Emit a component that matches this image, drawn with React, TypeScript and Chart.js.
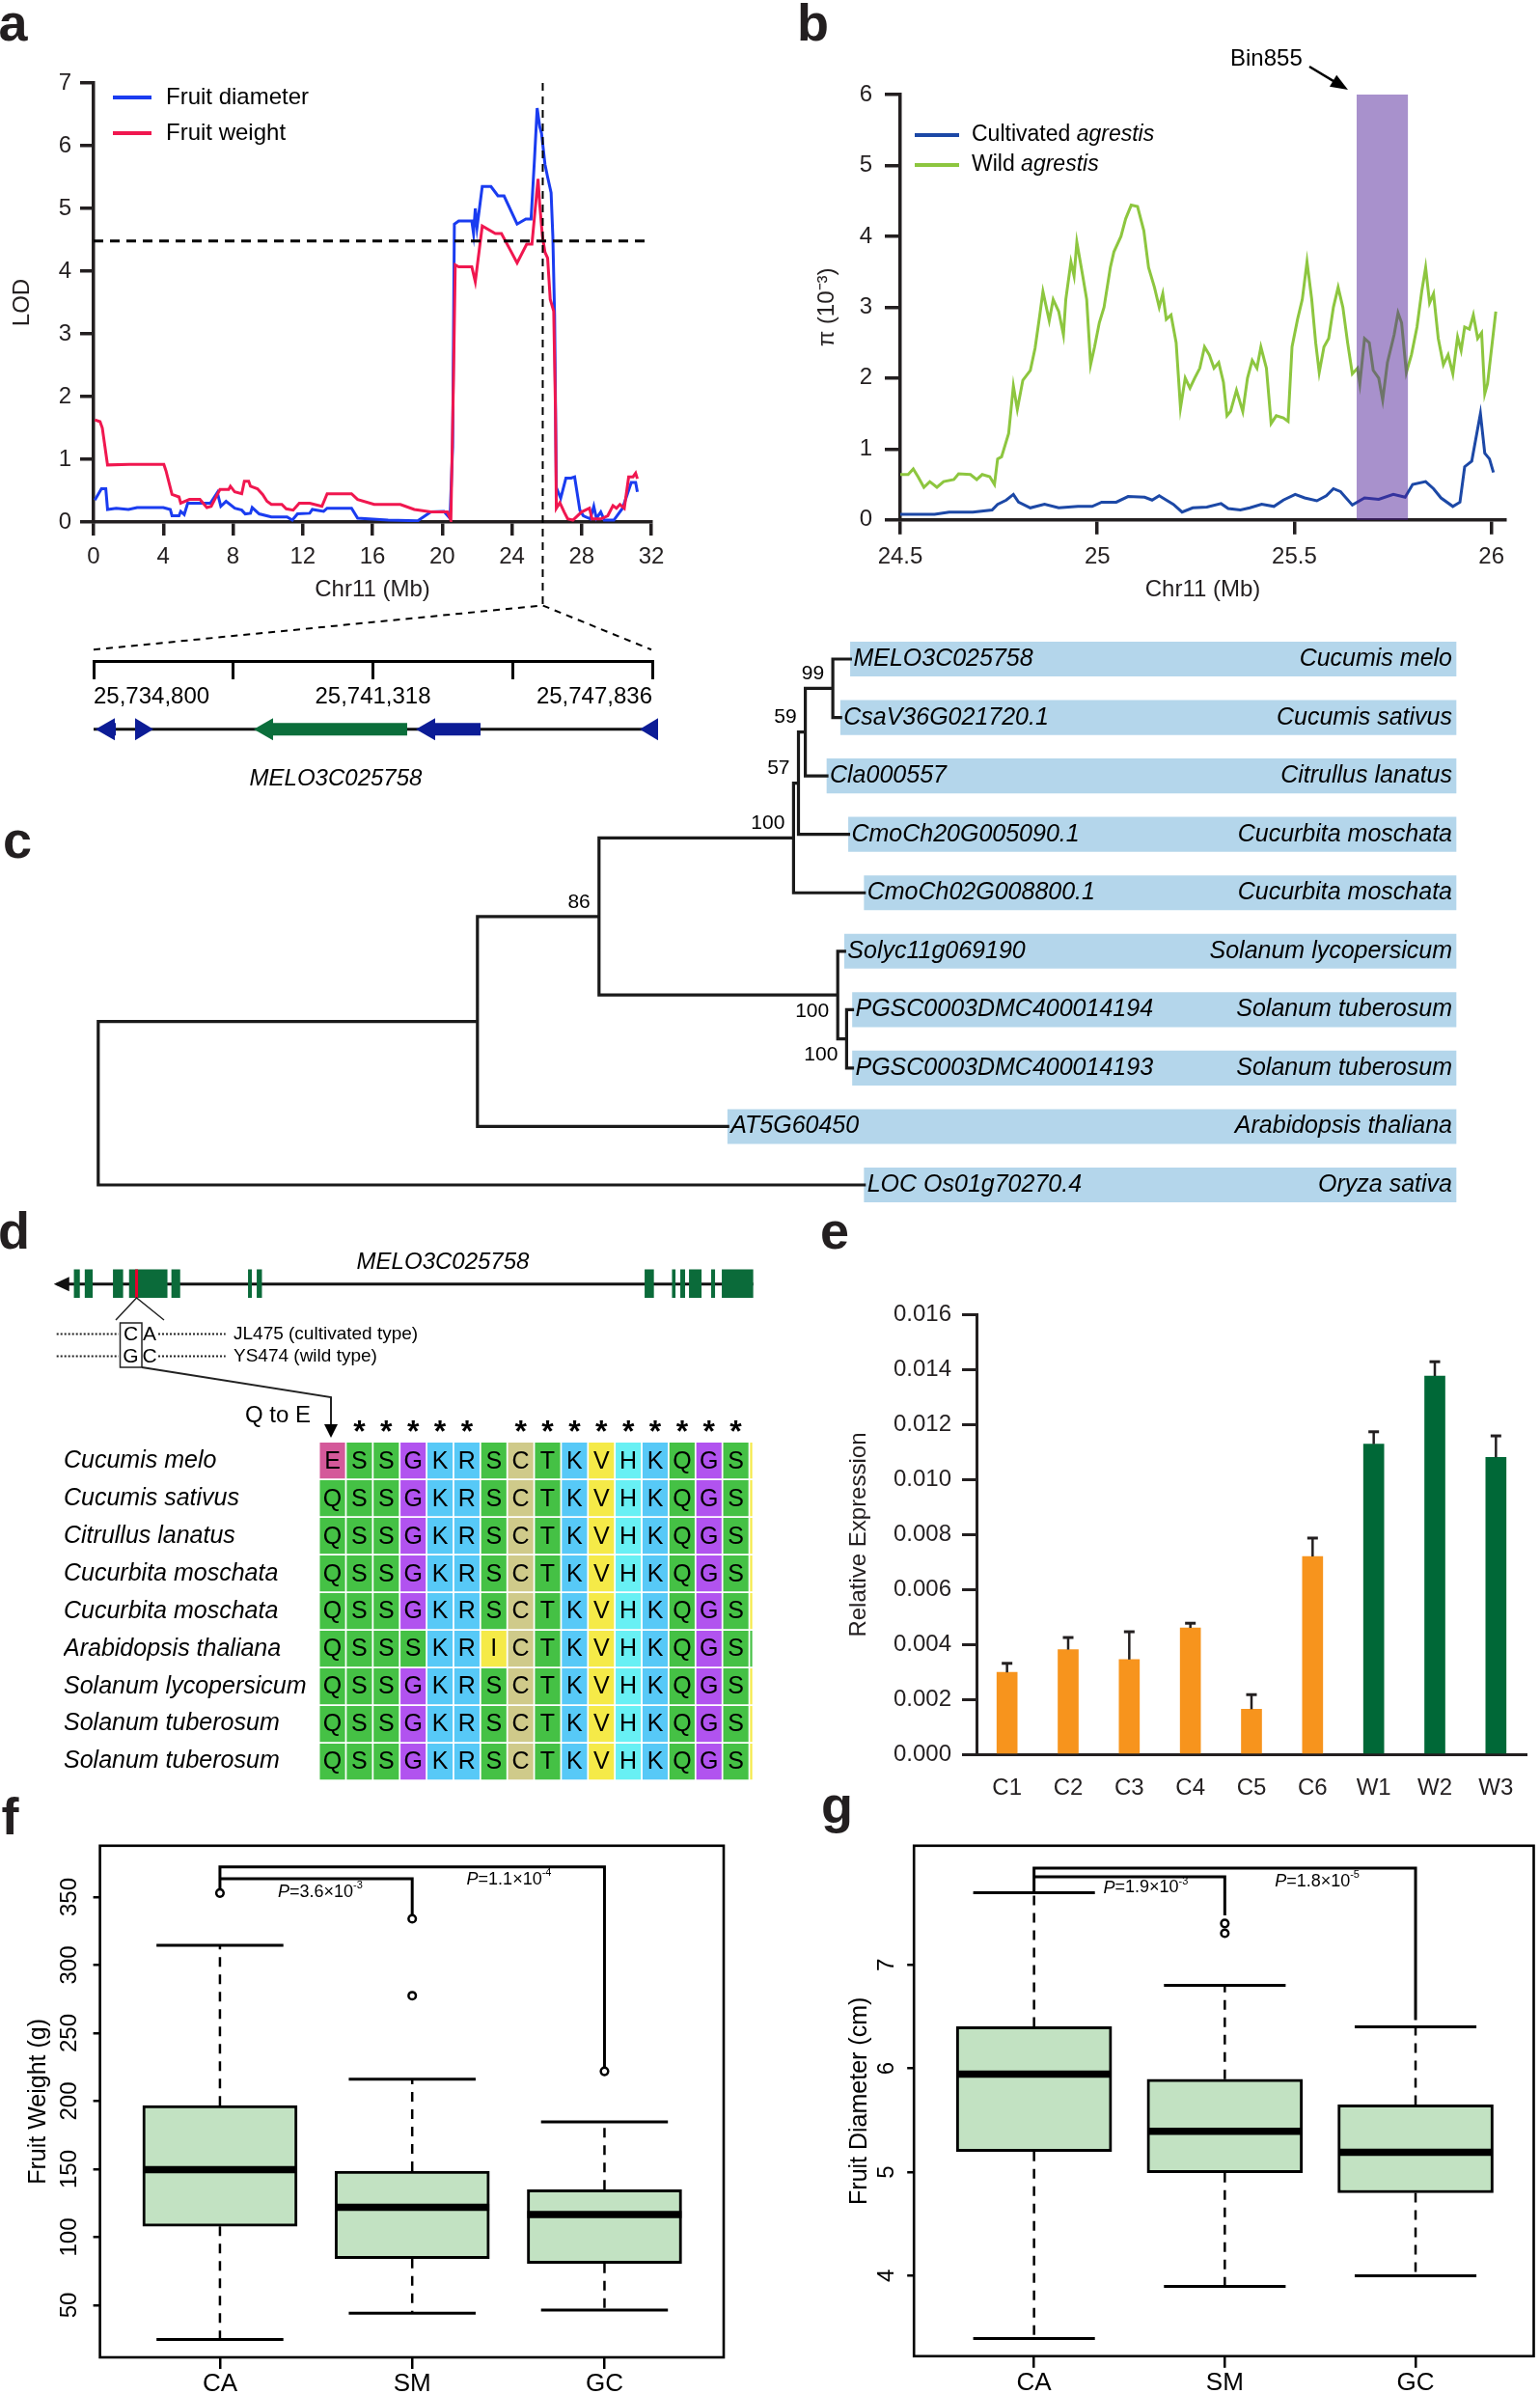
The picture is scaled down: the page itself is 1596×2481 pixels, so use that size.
import React, { useEffect, useRef } from 'react';
import { Chart, registerables } from 'chart.js';

Chart.register(...registerables);
const FONT = '"Liberation Sans", Arial, Helvetica, sans-serif';
Chart.defaults.font.family = FONT;
Chart.defaults.color = '#000';
const INK = '#231f20';

// ================= Panel a : LOD =================
const lodTicksMb = [0, 4, 8, 12, 16, 20, 24, 28, 32];
const lodThreshold = 4.48;
const lodPeakMb = 25.77;
const lodLegend = ['Fruit diameter', 'Fruit weight'];
const lodDiameter: [number, number][] = [
  [0.07,0.35],[0.45,0.53],[0.7,0.53],[0.8,0.2],[1.3,0.22],[2,0.2],[2.5,0.23],[4,0.23],[4.4,0.2],[4.5,0.1],[4.9,0.1],[5.0,0.17],[5.2,0.12],[5.4,0.3],[6.7,0.3],[7.1,0.47],[7.3,0.25],[7.6,0.33],[8.1,0.22],[8.5,0.19],[8.7,0.13],[9.0,0.14],[9.1,0.23],[9.5,0.13],[10.2,0.08],[11.1,0.08],[11.4,0.03],[11.7,0.13],[12.4,0.14],[12.55,0.2],[13.2,0.17],[13.4,0.22],[14.8,0.22],[15.15,0.06],[16.9,0.03],[18.6,0.02],[19.35,0.16],[20.1,0.17],[20.45,0.06],[20.6,1.2],[20.7,4.75],[20.95,4.8],[21.7,4.8],[21.8,4.6],[21.9,5.0],[22.0,4.7],[22.3,5.35],[22.8,5.35],[23.2,5.2],[23.55,5.2],[24.3,4.75],[24.8,4.83],[25.1,4.83],[25.3,5.8],[25.45,6.6],[25.6,6.3],[25.7,6.2],[25.9,5.7],[26.05,5.5],[26.25,5.25],[26.35,4.55],[26.45,3.3],[26.55,0.55],[26.8,0.38],[27.1,0.7],[27.4,0.7],[27.6,0.72],[27.9,0.19],[28.1,0.1],[28.5,0.05],[28.7,0.25],[28.85,0.06],[29.1,0.16],[29.3,0.03],[29.85,0.03],[30.35,0.22],[30.85,0.63],[31.1,0.63],[31.2,0.48]
];
const lodWeight: [number, number][] = [
  [0.07,1.63],[0.37,1.6],[0.5,1.5],[0.8,0.91],[2.05,0.92],[4.03,0.92],[4.15,0.82],[4.5,0.44],[4.9,0.4],[5.0,0.3],[5.5,0.36],[6.1,0.36],[6.5,0.23],[6.75,0.25],[7.1,0.44],[7.25,0.52],[7.75,0.52],[7.85,0.57],[8.1,0.48],[8.5,0.45],[8.65,0.65],[8.9,0.65],[9.0,0.57],[9.4,0.53],[9.7,0.44],[9.95,0.33],[10.2,0.28],[10.8,0.28],[11.05,0.21],[11.45,0.19],[11.8,0.3],[12.4,0.3],[13.1,0.25],[13.4,0.45],[14.8,0.45],[15.15,0.36],[16.1,0.28],[17.6,0.28],[18.4,0.2],[19.35,0.16],[20.3,0.16],[20.5,0.03],[20.65,2.3],[20.75,4.1],[20.95,4.07],[21.7,4.07],[21.9,3.83],[22.3,4.72],[23.05,4.6],[23.4,4.6],[23.9,4.34],[24.3,4.13],[24.85,4.43],[25.15,4.43],[25.5,5.47],[25.6,5.06],[25.75,4.56],[25.9,4.3],[26.05,4.21],[26.2,3.55],[26.4,3.36],[26.5,1.8],[26.55,0.22],[26.75,0.31],[27.0,0.16],[27.2,0.05],[27.5,0.03],[28.0,0.16],[28.45,0.22],[28.6,0.05],[29.1,0.05],[29.5,0.1],[29.8,0.26],[30.0,0.22],[30.2,0.28],[30.45,0.22],[30.7,0.72],[30.95,0.72],[31.1,0.78],[31.2,0.69]
];

// ================= Panel b : pi =================
const piTicksMb = [24.5, 25, 25.5, 26];
const bin855Range = [25.658, 25.788];
const piWild: [number, number][] = [
  [24.5,0.64],[24.52,0.64],[24.533,0.72],[24.545,0.61],[24.56,0.46],[24.575,0.54],[24.593,0.46],[24.61,0.54],[24.636,0.57],[24.648,0.65],[24.678,0.64],[24.694,0.57],[24.708,0.64],[24.727,0.61],[24.739,0.5],[24.747,0.86],[24.757,0.89],[24.775,1.22],[24.787,1.89],[24.797,1.56],[24.811,1.97],[24.83,2.11],[24.842,2.42],[24.854,2.89],[24.862,3.22],[24.878,2.81],[24.888,3.11],[24.902,2.94],[24.914,2.61],[24.92,3.11],[24.933,3.64],[24.941,3.44],[24.948,3.92],[24.963,3.44],[24.973,3.11],[24.983,2.19],[24.993,2.44],[25.005,2.78],[25.017,3.0],[25.033,3.56],[25.042,3.78],[25.06,4.0],[25.072,4.25],[25.086,4.44],[25.102,4.42],[25.118,4.08],[25.13,3.56],[25.145,3.28],[25.157,3.0],[25.166,3.19],[25.175,2.83],[25.187,2.89],[25.2,2.5],[25.211,1.58],[25.223,2.0],[25.235,1.86],[25.247,2.0],[25.26,2.14],[25.272,2.44],[25.284,2.33],[25.296,2.14],[25.308,2.22],[25.32,1.94],[25.329,1.47],[25.338,1.53],[25.353,1.83],[25.369,1.53],[25.381,2.0],[25.393,2.25],[25.405,2.14],[25.415,2.44],[25.429,2.14],[25.441,1.36],[25.454,1.47],[25.472,1.44],[25.484,1.39],[25.494,2.44],[25.508,2.83],[25.52,3.11],[25.532,3.64],[25.544,3.11],[25.554,2.5],[25.563,2.08],[25.575,2.44],[25.587,2.56],[25.599,3.0],[25.611,3.28],[25.623,3.0],[25.635,2.5],[25.647,2.06],[25.66,2.14],[25.666,1.92],[25.678,2.56],[25.69,2.5],[25.7,2.11],[25.714,2.0],[25.724,1.69],[25.736,2.22],[25.753,2.61],[25.763,2.92],[25.772,2.78],[25.784,2.08],[25.797,2.33],[25.811,2.72],[25.823,3.22],[25.833,3.56],[25.843,3.06],[25.853,3.19],[25.865,2.56],[25.878,2.19],[25.89,2.33],[25.902,2.06],[25.914,2.58],[25.923,2.39],[25.932,2.72],[25.944,2.69],[25.954,2.89],[25.965,2.56],[25.975,2.64],[25.983,1.78],[25.99,1.92],[26.011,2.94]
];
const piCultivated: [number, number][] = [
  [24.5,0.08],[24.587,0.08],[24.624,0.11],[24.684,0.11],[24.733,0.14],[24.747,0.22],[24.769,0.28],[24.787,0.36],[24.8,0.25],[24.83,0.17],[24.866,0.22],[24.902,0.17],[24.951,0.19],[24.987,0.19],[25.011,0.25],[25.048,0.25],[25.078,0.33],[25.12,0.32],[25.139,0.28],[25.157,0.34],[25.175,0.28],[25.193,0.22],[25.215,0.11],[25.242,0.17],[25.278,0.18],[25.314,0.23],[25.332,0.16],[25.363,0.14],[25.387,0.17],[25.417,0.22],[25.448,0.19],[25.472,0.28],[25.502,0.36],[25.526,0.31],[25.557,0.27],[25.581,0.34],[25.599,0.44],[25.617,0.4],[25.647,0.21],[25.678,0.31],[25.714,0.29],[25.751,0.36],[25.781,0.32],[25.8,0.5],[25.833,0.54],[25.853,0.44],[25.872,0.31],[25.902,0.19],[25.92,0.25],[25.932,0.75],[25.95,0.83],[25.972,1.5],[25.983,0.94],[25.995,0.86],[26.005,0.67]
];

// ================= Gene region under a =================
const geneRange = [25734800, 25747836];
const geneBackbone = [25734800, 25747950];
const geneFeatStart = [25734845, 25735768, 25738537, 25742320, 25747543];
const geneFeatEnd = [25735318, 25736196, 25742117, 25743829, 25747971];
const geneFeatStrand = [-1, 1, -1, -1, -1];
const geneFeatColor = ['#0c1c96', '#0c1c96', '#0b6e3b', '#0c1c96', '#0c1c96'];
const geneName = 'MELO3C025758';
const geneNamePos = 25740451;

// ================= Panel c : tree =================
const treeGenes = ['MELO3C025758', 'CsaV36G021720.1', 'Cla000557', 'CmoCh20G005090.1', 'CmoCh02G008800.1', 'Solyc11g069190', 'PGSC0003DMC400014194', 'PGSC0003DMC400014193', 'AT5G60450', 'LOC Os01g70270.4'];
const treeSpecies = ['Cucumis melo', 'Cucumis sativus', 'Citrullus lanatus', 'Cucurbita moschata', 'Cucurbita moschata', 'Solanum lycopersicum', 'Solanum tuberosum', 'Solanum tuberosum', 'Arabidopsis thaliana', 'Oryza sativa'];
const treeLeafDepth = [0.7796, 0.7694, 0.7552, 0.7776, 0.7939, 0.7735, 0.7817, 0.7817, 0.6524, 0.7939];
const treeNodeIds = ['n99', 'n59', 'n57', 'nCuc', 'nSolE', 'nSolD', 'nB', 'nA', 'root'];
const treeNodeChildren = [['L0', 'L1'], ['n99', 'L2'], ['n59', 'L3'], ['n57', 'L4'], ['L6', 'L7'], ['L5', 'nSolE'], ['nCuc', 'nSolD'], ['nB', 'L8'], ['nA', 'L9']];
const treeNodeDepth = [0.7613, 0.7328, 0.7257, 0.7206, 0.7756, 0.7664, 0.519, 0.393, 0];
const treeNodeSupport = ['99', '59', '57', '100', '100', '100', '86', '', ''];
const treeSupportBelow = [false, false, false, false, true, true, false, false, false];
const treeBoxEnd = 1.4072;

// ================= Panel d : alignment =================
const alignSpecies = ['Cucumis melo', 'Cucumis sativus', 'Citrullus lanatus', 'Cucurbita moschata', 'Cucurbita moschata', 'Arabidopsis thaliana', 'Solanum lycopersicum', 'Solanum tuberosum', 'Solanum tuberosum'];
const alignSeqs = ['ESSGKRSCTKVHKQGSV', 'QSSGKRSCTKVHKQGSV', 'QSSGKRSCTKVHKQGSV', 'QSSGKRSCTKVHKQGSV', 'QSSGKRSCTKVHKQGSV', 'QSSSKRICTKVHKQGSQ', 'QSSGKRSCTKVHKQGSV', 'QSSGKRSCTKVHKQGSV', 'QSSGKRSCTKVHKQGSV'];
const alignStars = [0, 1, 1, 1, 1, 1, 0, 1, 1, 1, 1, 1, 1, 1, 1, 1];
const residueColor: Record<string, string> = { Q: '#45c145', S: '#45c145', T: '#45c145', E: '#d4599a', G: '#b153ef', K: '#57c9f7', R: '#57c9f7', C: '#cfca8a', V: '#f5ea48', I: '#f5ea48', H: '#68f0f4' };
const exonStart = [24.7, 40.3, 80.8, 103.9, 164.7, 274.7, 287.2, 844.1, 883.4, 895.3, 907.8, 939.6, 954.9];
const exonEnd = [33.2, 51.7, 95.4, 159.0, 177.3, 280.2, 294.7, 857.4, 888.4, 902.2, 925.8, 945.2, 1000];
const snpPos = 114.7;

// ================= Panel e : expression =================
const exprLabels = ['C1', 'C2', 'C3', 'C4', 'C5', 'C6', 'W1', 'W2', 'W3'];
const exprMean = [0.00299, 0.00382, 0.00346, 0.00461, 0.00165, 0.00721, 0.0113, 0.01378, 0.01082];
const exprUpper = [0.00332, 0.00426, 0.00447, 0.00478, 0.00218, 0.00788, 0.01175, 0.0143, 0.0116];
const exprTicks = [0, 0.002, 0.004, 0.006, 0.008, 0.01, 0.012, 0.014, 0.016];

// ================= Panel f : fruit weight =================
const boxGroups = ['CA', 'SM', 'GC'];
const fwQ1 = [108, 84.2, 80.7];
const fwQ3 = [196.7, 148.6, 134.9];
const fwMed = [149.7, 121.9, 116.7];
const fwLo = [24.8, 44.2, 46.5];
const fwHi = [314.6, 216.1, 184.8];
const fwOutGroup = [1, 2, 2, 3];
const fwOutVal = [352.9, 277.5, 334, 221.9];
const fwTicks = [50, 100, 150, 200, 250, 300, 350];
const fwBrFrom = [1, 1];
const fwBrTo = [2, 3];
const fwBrTop = [363.5, 372.1];
const fwBrLeftEnd = [353, 353];
const fwBrRightEnd = [334.1, 221.9];
const fwPx = [1.301, 2.283];
const fwPy = [353.8, 362.8];
const fwPMant = ['3.6', '1.1'];
const fwPExp = ['3', '4'];

// ================= Panel g : fruit diameter =================
const fdQ1 = [5.199, 4.994, 4.8];
const fdQ3 = [6.402, 5.896, 5.648];
const fdMed = [5.945, 5.393, 5.191];
const fdLo = [3.395, 3.897, 4.0];
const fdHi = [7.696, 6.802, 6.402];
const fdOutGroup = [2, 2];
const fdOutVal = [7.399, 7.304];
const fdTicks = [4, 5, 6, 7];
const fdBrFrom = [1, 1];
const fdBrTo = [2, 3];
const fdBrTop = [7.849, 7.933];
const fdBrLeftEnd = [7.696, 7.696];
const fdBrRightEnd = [7.477, 6.466];
const fdPx = [1.3635, 2.262];
const fdPy = [7.742, 7.806];
const fdPMant = ['1.9', '1.8'];
const fdPExp = ['3', '5'];

// ================= helpers =================
const BLUE_A = '#1a3cf0';
const RED_A = '#f0174f';
const BLUE_B = '#1c48a6';
const GREEN_B = '#8dc63f';

function baseOptions(padding: any) {
  return {
    responsive: false,
    maintainAspectRatio: false,
    animation: false,
    events: [],
    layout: { padding },
    plugins: { legend: { display: false }, tooltip: { enabled: false }, title: { display: false } },
  };
}
const pts = (arr: [number, number][]) => arr.map(([x, y]) => ({ x, y }));
const GAP = { x: null, y: null };

function axisStyle(tickLength: number, width: number) {
  return {
    grid: { drawOnChartArea: false, drawTicks: true, tickLength, color: INK, lineWidth: width },
    border: { display: true, color: INK, width },
  };
}

// ---------- a ----------
const annA = {
  id: 'annA',
  afterDraw(chart: any) {
    const ctx = chart.ctx;
    ctx.save();
    const ys = [101, 138];
    const cols = [BLUE_A, RED_A];
    lodLegend.forEach((t, i) => {
      ctx.strokeStyle = cols[i];
      ctx.lineWidth = 4;
      ctx.beginPath(); ctx.moveTo(117, ys[i]); ctx.lineTo(157, ys[i]); ctx.stroke();
      ctx.fillStyle = '#000';
      ctx.font = `24px ${FONT}`;
      ctx.textBaseline = 'middle';
      ctx.fillText(t, 172, ys[i]);
    });
    ctx.restore();
  },
};

function configA() {
  return {
    type: 'line',
    data: {
      datasets: [
        { data: pts(lodWeight), borderColor: RED_A, borderWidth: 3, pointRadius: 0, order: 1 },
        { data: pts(lodDiameter), borderColor: BLUE_A, borderWidth: 3, pointRadius: 0, order: 2 },
        { data: [{ x: 0, y: lodThreshold }, { x: 32, y: lodThreshold }], borderColor: '#000', borderWidth: 3, borderDash: [10, 7], pointRadius: 0, order: 0 },
        { data: [{ x: lodPeakMb, y: 7 }, { x: lodPeakMb, y: -1.33 }], borderColor: '#000', borderWidth: 2, borderDash: [8, 6], pointRadius: 0, clip: false, order: 0 },
        { data: [{ x: 0, y: -2.035 }, { x: lodPeakMb, y: -1.33 }, { x: 32, y: -2.035 }], borderColor: '#000', borderWidth: 2, borderDash: [7, 6], pointRadius: 0, clip: false, order: 0 },
      ],
    },
    options: {
      ...baseOptions({ left: 0, top: 86, right: 25, bottom: 50 }),
      scales: {
        x: {
          type: 'linear', min: 0, max: 32,
          afterBuildTicks: (s: any) => { s.ticks = lodTicksMb.map((v) => ({ value: v })); },
          afterFit: (s: any) => { s.height = 99; },
          ticks: { font: { size: 24 }, color: INK, padding: 8, maxRotation: 0, autoSkip: false },
          ...axisStyle(14, 3.5),
          title: { display: true, text: 'Chr11 (Mb)', font: { size: 24 }, color: INK, padding: { top: 0, bottom: 14.6 } },
        },
        y: {
          type: 'linear', min: 0, max: 7,
          afterFit: (s: any) => { s.width = 97; },
          ticks: { stepSize: 1, font: { size: 24 }, color: INK, padding: 9 },
          ...axisStyle(14, 3.5),
          title: { display: true, text: 'LOD', font: { size: 24 }, color: INK, padding: { top: 8.6, bottom: 0 } },
        },
      },
    },
    plugins: [annA],
  };
}

// ---------- b ----------
const annB = {
  id: 'annB',
  afterDatasetsDraw(chart: any) {
    const { ctx, scales } = chart;
    const x0 = scales.x.getPixelForValue(bin855Range[0]);
    const x1 = scales.x.getPixelForValue(bin855Range[1]);
    const yt = scales.y.getPixelForValue(6);
    const yb = scales.y.getPixelForValue(0);
    ctx.save();
    ctx.fillStyle = 'rgba(78,30,150,0.49)';
    ctx.fillRect(x0, yt, x1 - x0, yb - yt);
    ctx.restore();
  },
  afterDraw(chart: any) {
    const ctx = chart.ctx;
    ctx.save();
    const ys = [140, 171];
    const cols = [BLUE_B, GREEN_B];
    const pre = ['Cultivated ', 'Wild '];
    ys.forEach((y, i) => {
      ctx.strokeStyle = cols[i];
      ctx.lineWidth = 4;
      ctx.beginPath(); ctx.moveTo(128, y); ctx.lineTo(174, y); ctx.stroke();
      ctx.fillStyle = '#000';
      ctx.textBaseline = 'middle';
      ctx.font = `23px ${FONT}`;
      ctx.fillText(pre[i], 187, y);
      const w = ctx.measureText(pre[i]).width;
      ctx.font = `italic 23px ${FONT}`;
      ctx.fillText('agrestis', 187 + w, y);
    });
    // Bin855 label with arrow
    ctx.font = `24px ${FONT}`;
    ctx.fillText('Bin855', 455, 61);
    const ax0 = 537, ay0 = 69, ax1 = 577, ay1 = 93;
    const ang = Math.atan2(ay1 - ay0, ax1 - ax0);
    ctx.strokeStyle = '#000';
    ctx.lineWidth = 2.5;
    ctx.beginPath(); ctx.moveTo(ax0, ay0);
    ctx.lineTo(ax1 - 12 * Math.cos(ang), ay1 - 12 * Math.sin(ang)); ctx.stroke();
    ctx.beginPath();
    ctx.moveTo(ax1, ay1);
    ctx.lineTo(ax1 - 18 * Math.cos(ang) + 7 * Math.sin(ang), ay1 - 18 * Math.sin(ang) - 7 * Math.cos(ang));
    ctx.lineTo(ax1 - 18 * Math.cos(ang) - 7 * Math.sin(ang), ay1 - 18 * Math.sin(ang) + 7 * Math.cos(ang));
    ctx.closePath(); ctx.fillStyle = '#000'; ctx.fill();
    ctx.restore();
  },
};

function configB() {
  return {
    type: 'line',
    data: {
      datasets: [
        { data: pts(piCultivated), borderColor: BLUE_B, borderWidth: 3, pointRadius: 0 },
        { data: pts(piWild), borderColor: GREEN_B, borderWidth: 3, pointRadius: 0 },
      ],
    },
    options: {
      ...baseOptions({ left: 0, top: 98, right: 36, bottom: 0 }),
      scales: {
        x: {
          type: 'linear', min: 24.5, max: 26.035,
          afterBuildTicks: (s: any) => { s.ticks = piTicksMb.map((v) => ({ value: v })); },
          afterFit: (s: any) => { s.height = 101.2; },
          ticks: { font: { size: 24 }, color: INK, padding: 9.5, maxRotation: 0, autoSkip: false, callback: (v: any) => String(v) },
          ...axisStyle(15, 3.5),
          title: { display: true, text: 'Chr11 (Mb)', font: { size: 24 }, color: INK, padding: { top: 0, bottom: 14.6 } },
        },
        y: {
          type: 'linear', min: 0, max: 6,
          afterFit: (s: any) => { s.width = 113; },
          ticks: { stepSize: 1, font: { size: 24 }, color: INK, padding: 13 },
          ...axisStyle(16, 3.5),
          title: { display: true, text: 'π (10⁻³)', font: { size: 24 }, color: INK, padding: { top: 22.6, bottom: 0 } },
        },
      },
    },
    plugins: [annB],
  };
}

// ---------- gene region ----------
const annGene = {
  id: 'annGene',
  afterDatasetsDraw(chart: any) {
    const { ctx, scales } = chart;
    const yc = scales.y.getPixelForValue(74.3);
    ctx.save();
    geneFeatStart.forEach((s, i) => {
      const x0 = scales.x.getPixelForValue(s);
      const x1 = scales.x.getPixelForValue(geneFeatEnd[i]);
      const head = Math.min(20, x1 - x0);
      const dir = geneFeatStrand[i];
      const tip = dir < 0 ? x0 : x1;
      const base = dir < 0 ? x0 + head : x1 - head;
      const tail = dir < 0 ? x1 : x0;
      ctx.fillStyle = geneFeatColor[i];
      ctx.beginPath();
      ctx.moveTo(tip, yc);
      ctx.lineTo(base, yc - 11.5);
      if (Math.abs(tail - base) > 0.5) {
        ctx.lineTo(base, yc - 6.5);
        ctx.lineTo(tail, yc - 6.5);
        ctx.lineTo(tail, yc + 6.5);
        ctx.lineTo(base, yc + 6.5);
      }
      ctx.lineTo(base, yc + 11.5);
      ctx.closePath();
      ctx.fill();
    });
    ctx.fillStyle = '#000';
    ctx.font = `italic 24px ${FONT}`;
    ctx.textAlign = 'center';
    ctx.textBaseline = 'middle';
    ctx.fillText(geneName, scales.x.getPixelForValue(geneNamePos), scales.y.getPixelForValue(23));
    ctx.restore();
  },
};

function configGene() {
  const ticks = [0, 1, 2, 3, 4].map((k) => geneRange[0] + (k * (geneRange[1] - geneRange[0])) / 4);
  return {
    type: 'line',
    data: {
      datasets: [
        { data: [{ x: geneBackbone[0], y: 74.3 }, { x: geneBackbone[1], y: 74.3 }], borderColor: '#111', borderWidth: 3, pointRadius: 0, clip: false },
      ],
    },
    options: {
      ...baseOptions({ left: 97, right: 84, top: 0, bottom: 0 }),
      scales: {
        x: {
          type: 'linear', min: geneRange[0], max: geneRange[1], position: { y: 145 },
          afterBuildTicks: (s: any) => { s.ticks = ticks.map((v) => ({ value: v })); },
          ticks: {
            font: { size: 24 }, color: '#000', padding: 5.6, maxRotation: 0, autoSkip: false, align: 'inner',
            callback: (v: any, i: number) => (i % 2 === 0 ? Math.round(v).toLocaleString('en-US') : ''),
          },
          grid: { drawOnChartArea: false, drawTicks: true, tickLength: 17, color: '#000', lineWidth: 3 },
          border: { display: true, color: '#000', width: 3 },
        },
        y: { type: 'linear', min: 0, max: 160, display: false },
      },
    },
    plugins: [annGene],
  };
}

// ---------- c : tree ----------
function treePositions() {
  const pos: Record<string, { x: number; y: number }> = {};
  treeLeafDepth.forEach((d, i) => { pos['L' + i] = { x: d, y: i }; });
  treeNodeIds.forEach((id, k) => {
    const [a, b] = treeNodeChildren[k];
    pos[id] = { x: treeNodeDepth[k], y: (pos[a].y + pos[b].y) / 2 };
  });
  return pos;
}

const annTree = {
  id: 'annTree',
  afterDatasetsDraw(chart: any) {
    const { ctx, scales } = chart;
    const pos = treePositions();
    ctx.save();
    ctx.fillStyle = '#000';
    ctx.textBaseline = 'middle';
    ctx.font = `italic 25px ${FONT}`;
    treeGenes.forEach((g, i) => {
      const y = scales.y.getPixelForValue(i);
      ctx.textAlign = 'left';
      ctx.fillText(g, scales.x.getPixelForValue(treeLeafDepth[i]) + 3, y);
      ctx.textAlign = 'right';
      ctx.fillText(treeSpecies[i], scales.x.getPixelForValue(treeBoxEnd) - 4, y);
    });
    ctx.font = `21px ${FONT}`;
    ctx.textAlign = 'right';
    treeNodeIds.forEach((id, k) => {
      if (!treeNodeSupport[k]) return;
      const p = pos[id];
      const px = scales.x.getPixelForValue(p.x) - 9;
      const py = scales.y.getPixelForValue(p.y) + (treeSupportBelow[k] ? 17 : -15);
      ctx.fillText(treeNodeSupport[k], px, py);
    });
    ctx.restore();
  },
};

function configTree() {
  const pos = treePositions();
  const lines: any[] = [];
  treeNodeIds.forEach((id, k) => {
    const [a, b] = treeNodeChildren[k];
    const n = pos[id];
    lines.push({ x: pos[a].x, y: pos[a].y }, { x: n.x, y: pos[a].y }, { x: n.x, y: pos[b].y }, { x: pos[b].x, y: pos[b].y }, GAP);
  });
  return {
    type: 'line',
    data: {
      datasets: [
        {
          type: 'bar', indexAxis: 'y',
          data: treeLeafDepth.map((d, i) => ({ x: [d, treeBoxEnd], y: i })),
          backgroundColor: '#b4d6eb', borderWidth: 0, barThickness: 35.5, order: 2,
        },
        {
          type: 'line', data: lines, borderColor: '#1a1a1a', borderWidth: 3.2, pointRadius: 0, spanGaps: false,
          borderJoinStyle: 'miter', borderCapStyle: 'square', order: 1,
        },
      ],
    },
    options: {
      ...baseOptions({ left: 0, right: 0, top: 0, bottom: 0 }),
      scales: {
        x: { type: 'linear', min: -0.1018, max: 1.4942, display: false, offset: false },
        y: { type: 'linear', min: -0.545, max: 9.363, reverse: true, display: false, offset: false },
      },
    },
    plugins: [annTree],
  };
}

// ---------- d : alignment ----------
const D_TOP = 1240;
const annD = {
  id: 'annD',
  afterDatasetsDraw(chart: any) {
    const { ctx, chartArea } = chart;
    ctx.save();
    ctx.fillStyle = '#000';
    ctx.font = `25px ${FONT}`;
    ctx.textAlign = 'center';
    ctx.textBaseline = 'middle';
    chart.data.datasets.forEach((ds: any, c: number) => {
      const meta = chart.getDatasetMeta(c);
      meta.data.forEach((el: any, r: number) => {
        const cx = (el.x + el.base) / 2;
        if (cx > chartArea.right) return;
        ctx.fillText(alignSeqs[r][c], cx, el.y + 1);
      });
    });
    // asterisks
    ctx.font = `bold 32px ${FONT}`;
    alignStars.forEach((s, c) => {
      if (!s) return;
      const el = chart.getDatasetMeta(c).data[0];
      const cx = (el.x + el.base) / 2;
      ctx.fillText('*', cx, 1476 - D_TOP + 9);
    });
    ctx.restore();
  },
  afterDraw(chart: any) {
    const { ctx } = chart;
    const gx = chart.scales.gx;
    ctx.save();
    ctx.translate(0, -D_TOP);
    const gy = 1330.8;
    const X = (v: number) => gx.getPixelForValue(v);
    // backbone
    ctx.strokeStyle = '#111';
    ctx.lineWidth = 3;
    ctx.beginPath(); ctx.moveTo(X(0), gy); ctx.lineTo(X(1000), gy); ctx.stroke();
    ctx.fillStyle = '#111';
    ctx.beginPath(); ctx.moveTo(X(0) - 3, gy); ctx.lineTo(X(0) + 13, gy - 7.5); ctx.lineTo(X(0) + 13, gy + 7.5); ctx.closePath(); ctx.fill();
    // exons
    ctx.fillStyle = '#0b6b3a';
    exonStart.forEach((s, i) => { ctx.fillRect(X(s), 1315.5, X(exonEnd[i]) - X(s), 29.5); });
    // SNP
    ctx.strokeStyle = '#e8002d';
    ctx.lineWidth = 3;
    ctx.beginPath(); ctx.moveTo(X(snpPos), 1315.5); ctx.lineTo(X(snpPos), 1345); ctx.stroke();
    // zoom lines
    ctx.strokeStyle = '#222';
    ctx.lineWidth = 1.5;
    ctx.beginPath(); ctx.moveTo(120, 1368); ctx.lineTo(X(snpPos), 1345); ctx.lineTo(170, 1368); ctx.stroke();
    // box
    ctx.strokeRect(124.5, 1371, 22.5, 46);
    // dotted lines
    ctx.setLineDash([2, 2]);
    ctx.lineWidth = 2;
    [1382.5, 1405.4].forEach((y) => {
      ctx.beginPath(); ctx.moveTo(58.7, y); ctx.lineTo(123, y); ctx.moveTo(164, y); ctx.lineTo(233.7, y); ctx.stroke();
    });
    ctx.setLineDash([]);
    ctx.fillStyle = '#000';
    ctx.textBaseline = 'middle';
    ctx.textAlign = 'center';
    ctx.font = `21px ${FONT}`;
    ctx.fillText('C', 135.5, 1383); ctx.fillText('A', 155, 1383);
    ctx.fillText('G', 135.5, 1406); ctx.fillText('C', 155, 1406);
    ctx.textAlign = 'left';
    ctx.font = `19px ${FONT}`;
    ctx.fillText('JL475 (cultivated type)', 242, 1383);
    ctx.fillText('YS474 (wild type)', 242, 1406);
    // arrow to Q->E
    ctx.lineWidth = 2;
    ctx.beginPath(); ctx.moveTo(147, 1417); ctx.lineTo(343, 1448); ctx.lineTo(343, 1478); ctx.stroke();
    ctx.beginPath(); ctx.moveTo(343, 1490); ctx.lineTo(336, 1476); ctx.lineTo(350, 1476); ctx.closePath(); ctx.fill();
    ctx.textAlign = 'center';
    ctx.font = `24px ${FONT}`;
    ctx.fillText('Q to E', 288, 1467);
    ctx.font = `italic 24px ${FONT}`;
    ctx.fillText(geneName, 459, 1308);
    ctx.restore();
  },
};

function configD() {
  const nCols = alignSeqs[0].length;
  const datasets = Array.from({ length: nCols }, (_, c) => ({
    data: alignSeqs.map(() => 1),
    backgroundColor: alignSeqs.map((s) => residueColor[s[c]]),
    borderColor: '#ffffff', borderWidth: 1.2, borderSkipped: false,
    barPercentage: 1, categoryPercentage: 1,
  }));
  return {
    type: 'bar',
    data: { labels: alignSpecies, datasets },
    options: {
      ...baseOptions({ left: 66, top: 254.2, right: 20.4, bottom: 0.4 }),
      indexAxis: 'y',
      scales: {
        x: { type: 'linear', stacked: true, display: false, min: 0, max: 16.11 },
        y: {
          type: 'category', stacked: true,
          grid: { display: false, drawTicks: false }, border: { display: false },
          ticks: { crossAlign: 'far', font: { size: 25, style: 'italic' }, color: '#000', padding: 0, autoSkip: false },
          afterFit: (s: any) => { s.width = 264.6; },
        },
        gx: { type: 'linear', axis: 'x', display: false, min: 376.6, max: 998.6 },
      },
    },
    plugins: [annD],
  };
}

// ---------- e : expression ----------
const annE = {
  id: 'annE',
  afterDatasetsDraw(chart: any) {
    const { ctx, scales } = chart;
    const meta = chart.getDatasetMeta(0);
    ctx.save();
    ctx.strokeStyle = INK;
    meta.data.forEach((el: any, i: number) => {
      const ye = scales.y.getPixelForValue(exprUpper[i]);
      ctx.lineWidth = 2.5;
      ctx.beginPath(); ctx.moveTo(el.x, el.y); ctx.lineTo(el.x, ye); ctx.stroke();
      ctx.lineWidth = 3;
      ctx.beginPath(); ctx.moveTo(el.x - 5.5, ye); ctx.lineTo(el.x + 5.5, ye); ctx.stroke();
    });
    ctx.restore();
  },
};

function configE() {
  return {
    type: 'bar',
    data: {
      labels: exprLabels,
      datasets: [
        {
          data: exprMean,
          backgroundColor: exprLabels.map((l) => (l[0] === 'C' ? '#f7941d' : '#006837')),
          barThickness: 21,
        },
      ],
    },
    options: {
      ...baseOptions({ left: 0, top: 102.8, right: 14, bottom: 0 }),
      scales: {
        x: {
          type: 'category',
          afterFit: (s: any) => { s.height = 61.7; },
          grid: { display: false, drawTicks: false },
          border: { display: true, color: INK, width: 3 },
          ticks: { font: { size: 24 }, color: INK, padding: 20.3, maxRotation: 0, autoSkip: false },
        },
        y: {
          type: 'linear', min: 0, max: 0.016,
          afterBuildTicks: (s: any) => { s.ticks = exprTicks.map((v) => ({ value: v })); },
          afterFit: (s: any) => { s.width = 192; },
          ticks: { font: { size: 24 }, color: INK, padding: 11, callback: (v: any) => Number(v).toFixed(3) },
          ...axisStyle(15, 3),
          title: { display: true, text: 'Relative Expression', font: { size: 24 }, color: INK, padding: { top: 55.6, bottom: 0 } },
        },
      },
    },
    plugins: [annE],
  };
}

// ---------- f / g : box plots ----------
function drawP(ctx: any, x: number, y: number, mant: string, exp: string) {
  const size = 18;
  ctx.textBaseline = 'middle';
  ctx.textAlign = 'left';
  ctx.font = `italic ${size}px ${FONT}`;
  ctx.fillText('P', x, y);
  let w = ctx.measureText('P').width;
  ctx.font = `${size}px ${FONT}`;
  const s = '=' + mant + '×10';
  ctx.fillText(s, x + w, y);
  w += ctx.measureText(s).width;
  ctx.font = `${Math.round(size * 0.62)}px ${FONT}`;
  ctx.fillText('-' + exp, x + w, y - size * 0.38);
}

function boxConfig(d: any) {
  const med: any[] = [];
  const whisk: any[] = [];
  const caps: any[] = [];
  boxGroups.forEach((g, i) => {
    const x = i + 1;
    med.push({ x: x - d.boxHalf, y: d.med[i] }, { x: x + d.boxHalf, y: d.med[i] }, GAP);
    whisk.push({ x, y: d.q3[i] }, { x, y: d.hi[i] }, GAP, { x, y: d.q1[i] }, { x, y: d.lo[i] }, GAP);
    caps.push({ x: x - d.capHalf, y: d.hi[i] }, { x: x + d.capHalf, y: d.hi[i] }, GAP, { x: x - d.capHalf, y: d.lo[i] }, { x: x + d.capHalf, y: d.lo[i] }, GAP);
  });
  const brackets: any[] = [];
  d.brFrom.forEach((f: number, k: number) => {
    const t = d.brTo[k];
    brackets.push({ x: f, y: d.brLeftEnd[k] }, { x: f, y: d.brTop[k] }, { x: t, y: d.brTop[k] }, { x: t, y: d.brRightEnd[k] }, GAP);
  });
  const outliers = d.outGroup.map((g: number, i: number) => ({ x: g, y: d.outVal[i] }));
  const annBox = {
    id: 'annBox',
    afterDraw(chart: any) {
      const { ctx, chartArea, scales } = chart;
      ctx.save();
      ctx.strokeStyle = '#000';
      ctx.lineWidth = 2.6;
      ctx.strokeRect(chartArea.left, chartArea.top, chartArea.right - chartArea.left, chartArea.bottom - chartArea.top);
      ctx.fillStyle = '#000';
      d.pX.forEach((px: number, k: number) => {
        drawP(ctx, scales.x.getPixelForValue(px), scales.y.getPixelForValue(d.pY[k]), d.pMant[k], d.pExp[k]);
      });
      ctx.restore();
    },
  };
  return {
    type: 'bar',
    data: {
      datasets: [
        {
          type: 'bar', data: boxGroups.map((g, i) => ({ x: i + 1, y: [d.q1[i], d.q3[i]] })),
          backgroundColor: '#c2e2c2', borderColor: '#000', borderWidth: 3, borderSkipped: false,
          barThickness: d.boxPx, order: 3,
        },
        { type: 'line', data: whisk, borderColor: '#000', borderWidth: 2.5, borderDash: [10, 8], pointRadius: 0, spanGaps: false, order: 4 },
        { type: 'line', data: caps, borderColor: '#000', borderWidth: 3, pointRadius: 0, spanGaps: false, order: 2 },
        { type: 'line', data: med, borderColor: '#000', borderWidth: 7.5, pointRadius: 0, spanGaps: false, order: 1 },
        { type: 'line', data: brackets, borderColor: '#000', borderWidth: 3, pointRadius: 0, spanGaps: false, order: 1 },
        { type: 'scatter', data: outliers, pointRadius: 3.8, pointBorderWidth: 2.5, pointBackgroundColor: '#fff', pointBorderColor: '#000', order: 0 },
      ],
    },
    options: {
      ...baseOptions(d.padding),
      scales: {
        x: {
          type: 'linear', min: d.xMin, max: d.xMax, offset: false,
          afterBuildTicks: (s: any) => { s.ticks = boxGroups.map((g, i) => ({ value: i + 1 })); },
          afterFit: (s: any) => { s.height = d.xAxisH; },
          ticks: { font: { size: 26 }, color: '#000', padding: 0.5, autoSkip: false, maxRotation: 0, callback: (v: any) => boxGroups[Math.round(v) - 1] },
          grid: { offset: false, drawOnChartArea: false, drawTicks: true, tickLength: 12, color: '#000', lineWidth: 2.5 },
          border: { display: false },
        },
        y: {
          type: 'linear', min: d.yMin, max: d.yMax,
          afterBuildTicks: (s: any) => { s.ticks = d.yTicks.map((v: number) => ({ value: v })); },
          afterFit: (s: any) => { s.width = d.yAxisW; },
          ticks: { font: { size: 24 }, color: '#000', padding: d.yTickPad, minRotation: 90, maxRotation: 90, crossAlign: 'center' },
          grid: { drawOnChartArea: false, drawTicks: true, tickLength: 7, color: '#000', lineWidth: 2.5 },
          border: { display: false },
          title: { display: true, text: d.title, font: { size: 25 }, color: '#000', padding: { top: d.titlePad, bottom: 0 } },
        },
      },
    },
    plugins: [annBox],
  };
}

function configF() {
  return boxConfig({
    q1: fwQ1, q3: fwQ3, med: fwMed, lo: fwLo, hi: fwHi, outGroup: fwOutGroup, outVal: fwOutVal,
    brFrom: fwBrFrom, brTo: fwBrTo, brTop: fwBrTop, brLeftEnd: fwBrLeftEnd, brRightEnd: fwBrRightEnd,
    pX: fwPx, pY: fwPy, pMant: fwPMant, pExp: fwPExp, yTicks: fwTicks,
    boxHalf: 0.401, capHalf: 0.33, boxPx: 160,
    xMin: 0.376, xMax: 3.62, yMin: 11.7, yMax: 387.7,
    padding: { left: 0, top: 72.8, right: 50, bottom: 0 }, xAxisH: 38, yAxisW: 103.6, yTickPad: 3.9,
    title: 'Fruit Weight (g)', titlePad: 25,
  });
}
function configG() {
  return boxConfig({
    q1: fdQ1, q3: fdQ3, med: fdMed, lo: fdLo, hi: fdHi, outGroup: fdOutGroup, outVal: fdOutVal,
    brFrom: fdBrFrom, brTo: fdBrTo, brTop: fdBrTop, brLeftEnd: fdBrLeftEnd, brRightEnd: fdBrRightEnd,
    pX: fdPx, pY: fdPy, pMant: fdPMant, pExp: fdPExp, yTicks: fdTicks,
    boxHalf: 0.404, capHalf: 0.319, boxPx: 161,
    xMin: 0.3705, xMax: 3.6195, yMin: 3.2235, yMax: 8.149,
    padding: { left: 0, top: 72.8, right: 1.6, bottom: 0 }, xAxisH: 39.2, yAxisW: 147.2, yTickPad: 14.5,
    title: 'Fruit Diameter (cm)', titlePad: 76,
  });
}

// ================= components =================
function ChartCanvas({ left, top, width, height, build }: any) {
  const ref = useRef<HTMLCanvasElement | null>(null);
  useEffect(() => {
    if (!ref.current) return;
    const chart = new Chart(ref.current, build());
    return () => chart.destroy();
  }, []);
  return <canvas ref={ref} width={width} height={height} style={{ position: 'absolute', left, top, width, height }} />;
}

function Letter({ ch, x, baseline }: any) {
  const S = 54;
  return (
    <div style={{ position: 'absolute', left: x, top: baseline - 0.8465 * S, font: `bold ${S}px ${FONT}`, lineHeight: `${S}px`, color: INK }}>
      {ch}
    </div>
  );
}

export default function App() {
  return (
    <div style={{ position: 'absolute', left: 0, top: 0, width: 1596, height: 2481, background: '#fff', overflow: 'hidden' }}>
      <ChartCanvas left={0} top={0} width={700} height={690} build={configA} />
      <ChartCanvas left={820} top={0} width={776} height={640} build={configB} />
      <ChartCanvas left={0} top={670} width={760} height={160} build={configGene} />
      <ChartCanvas left={0} top={650} width={1596} height={600} build={configTree} />
      <ChartCanvas left={0} top={D_TOP} width={800} height={620} build={configD} />
      <ChartCanvas left={820} top={1260} width={776} height={620} build={configE} />
      <ChartCanvas left={0} top={1840} width={800} height={641} build={configF} />
      <ChartCanvas left={800} top={1840} width={796} height={641} build={configG} />
      <Letter ch="a" x={-1.5} baseline={41.5} />
      <Letter ch="b" x={826} baseline={41.5} />
      <Letter ch="c" x={3} baseline={889} />
      <Letter ch="d" x={-2} baseline={1294} />
      <Letter ch="e" x={850} baseline={1293.6} />
      <Letter ch="f" x={1.5} baseline={1901} />
      <Letter ch="g" x={851} baseline={1889} />
    </div>
  );
}
